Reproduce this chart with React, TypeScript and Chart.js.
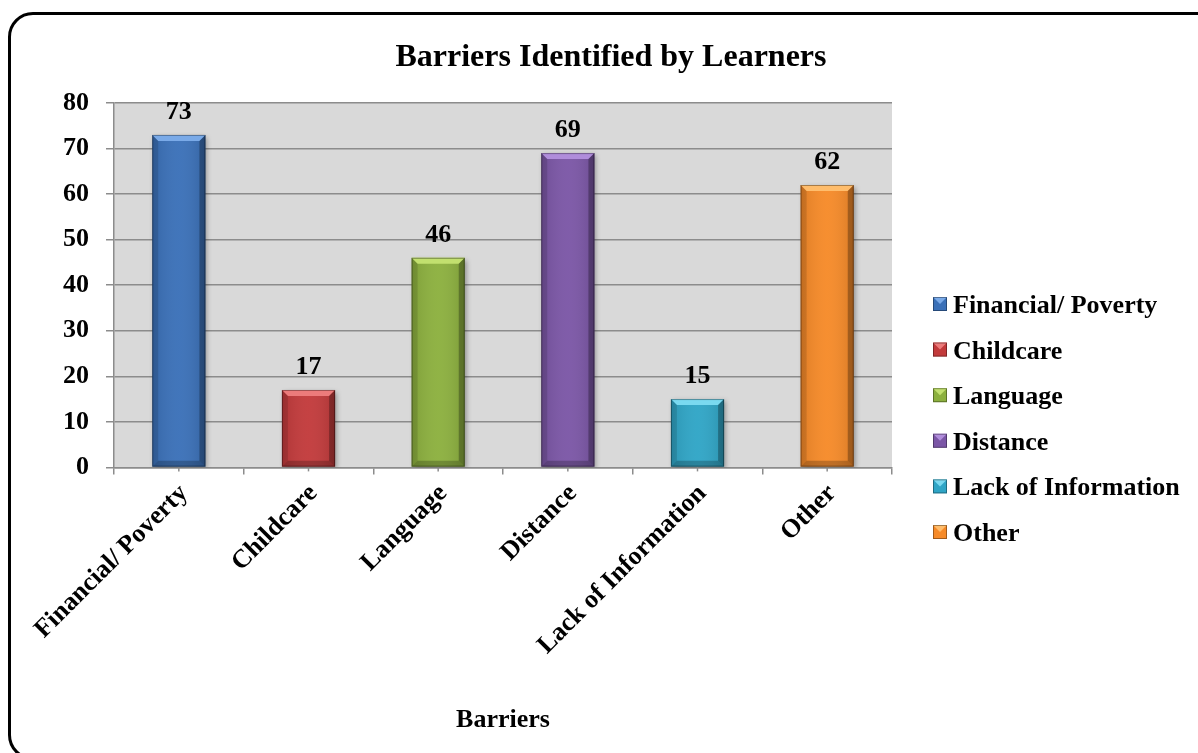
import React, { useEffect, useRef } from "react";
import { Chart, registerables } from "chart.js";

Chart.register(...registerables);

const categories = [
  "Financial/ Poverty",
  "Childcare",
  "Language",
  "Distance",
  "Lack of Information",
  "Other",
];
const values = [73, 17, 46, 69, 15, 62];
const barColors = ["#3a70b8", "#c23a3b", "#8cb03e", "#7b56a6", "#2fa5c6", "#f68a28"];
const bevelColors = ["#7aaae8", "#ec7b7b", "#c2e06f", "#b08ddb", "#7ad9f0", "#ffbd6c"];
const yMin = 0;
const yMax = 80;
const yStep = 10;
const chartTitle = "Barriers Identified by Learners";
const xAxisTitle = "Barriers";

const FONT = '"Liberation Serif", "Times New Roman", serif';
const GRID = "#8c8c8c";

const decorPlugin = {
  id: "decor",
  beforeDraw(chart: any) {
    const { ctx, chartArea: a } = chart;
    ctx.save();
    ctx.fillStyle = "#d9d9d9";
    ctx.fillRect(a.left, a.top, a.right - a.left, a.bottom - a.top);
    ctx.restore();
  },
  beforeDatasetsDraw(chart: any) {
    const { ctx } = chart;
    ctx.save();
    ctx.shadowColor = "rgba(0,0,0,0.35)";
    ctx.shadowBlur = 5;
    ctx.shadowOffsetX = 2;
    ctx.shadowOffsetY = 2;
  },
  afterDatasetsDraw(chart: any) {
    const { ctx, chartArea: a } = chart;
    ctx.restore();
    const meta = chart.getDatasetMeta(0);
    meta.data.forEach((el: any, i: number) => {
      const w = el.width;
      const l = el.x - w / 2;
      const r = el.x + w / 2;
      const t = el.y;
      const b = el.base;
      const bv = 6;
      ctx.save();
      const g = ctx.createLinearGradient(l, 0, r, 0);
      g.addColorStop(0, "rgba(0,0,0,0.10)");
      g.addColorStop(0.5, "rgba(255,255,255,0.04)");
      g.addColorStop(1, "rgba(0,0,0,0.12)");
      ctx.fillStyle = g;
      ctx.fillRect(l, t, w, b - t);
      ctx.beginPath();
      ctx.moveTo(l, t);
      ctx.lineTo(r, t);
      ctx.lineTo(r - bv, t + bv);
      ctx.lineTo(l + bv, t + bv);
      ctx.closePath();
      ctx.fillStyle = bevelColors[i];
      ctx.fill();
      ctx.beginPath();
      ctx.moveTo(l, t);
      ctx.lineTo(l + bv, t + bv);
      ctx.lineTo(l + bv, b - bv);
      ctx.lineTo(l, b);
      ctx.closePath();
      ctx.fillStyle = "rgba(0,0,0,0.12)";
      ctx.fill();
      ctx.beginPath();
      ctx.moveTo(r, t);
      ctx.lineTo(r - bv, t + bv);
      ctx.lineTo(r - bv, b - bv);
      ctx.lineTo(r, b);
      ctx.closePath();
      ctx.fillStyle = "rgba(0,0,0,0.28)";
      ctx.fill();
      ctx.beginPath();
      ctx.moveTo(l, b);
      ctx.lineTo(l + bv, b - bv);
      ctx.lineTo(r - bv, b - bv);
      ctx.lineTo(r, b);
      ctx.closePath();
      ctx.fillStyle = "rgba(0,0,0,0.22)";
      ctx.fill();
      ctx.strokeStyle = "rgba(0,0,0,0.35)";
      ctx.lineWidth = 1;
      ctx.strokeRect(l + 0.5, t + 0.5, w - 1, b - t - 1);
      ctx.fillStyle = "#000";
      ctx.font = `bold 26px ${FONT}`;
      ctx.textAlign = "center";
      ctx.textBaseline = "alphabetic";
      ctx.fillText(String(values[i]), el.x, t - 16);
      ctx.strokeStyle = GRID;
      ctx.lineWidth = 1.5;
      ctx.beginPath();
      ctx.moveTo(el.x, a.bottom);
      ctx.lineTo(el.x, a.bottom + 4);
      ctx.stroke();
      ctx.restore();
    });
  },
  afterDraw(chart: any) {
    const { ctx, chartArea: a } = chart;
    ctx.save();
    ctx.fillStyle = "#000";
    ctx.font = `bold 32px ${FONT}`;
    ctx.textAlign = "center";
    ctx.textBaseline = "alphabetic";
    ctx.fillText(chartTitle, 611, 66);
    const bx = a.right + 41;
    const y0 = 304;
    const dy = 45.6;
    ctx.font = `bold 26px ${FONT}`;
    ctx.textAlign = "left";
    categories.forEach((c, i) => {
      const cy = y0 + i * dy;
      const s = 14;
      const x = bx;
      const y = cy - s / 2;
      ctx.fillStyle = barColors[i];
      ctx.fillRect(x, y, s, s);
      ctx.beginPath();
      ctx.moveTo(x, y);
      ctx.lineTo(x + s, y);
      ctx.lineTo(x + s / 2, y + s / 2);
      ctx.closePath();
      ctx.fillStyle = bevelColors[i];
      ctx.fill();
      ctx.strokeStyle = "rgba(0,0,0,0.35)";
      ctx.lineWidth = 1;
      ctx.strokeRect(x + 0.5, y + 0.5, s - 1, s - 1);
      ctx.fillStyle = "#000";
      ctx.fillText(c, bx + 20, cy + 9);
    });
    ctx.restore();
  },
};

export default function App() {
  const ref = useRef<HTMLCanvasElement | null>(null);
  useEffect(() => {
    if (!ref.current) return;
    const chart = new Chart(ref.current, {
      type: "bar",
      data: {
        labels: categories,
        datasets: [
          {
            label: xAxisTitle,
            data: values,
            backgroundColor: barColors,
            borderWidth: 0,
            categoryPercentage: 1,
            barPercentage: 0.41,
          },
        ],
      },
      options: {
        responsive: false,
        animation: false,
        layout: { padding: { left: 46, right: 306, top: 103, bottom: 17 } },
        plugins: {
          legend: { display: false },
          title: { display: false },
          tooltip: { enabled: false },
        },
        scales: {
          x: {
            grid: {
              display: true,
              drawOnChartArea: false,
              drawTicks: true,
              tickLength: 7,
              color: GRID,
              lineWidth: 1.5,
              offset: true,
            },
            border: { color: GRID, width: 1.5 },
            ticks: {
              minRotation: 45,
              maxRotation: 45,
              autoSkip: false,
              padding: 4,
              labelOffset: 5,
              color: "#000",
              font: { family: FONT, size: 26, weight: "bold" },
            },
            title: {
              display: true,
              text: xAxisTitle,
              color: "#000",
              font: { family: FONT, size: 26, weight: "bold" },
              padding: { top: 40, bottom: 0 },
            },
          },
          y: {
            min: yMin,
            max: yMax,
            ticks: {
              stepSize: yStep,
              padding: 17,
              color: "#000",
              font: { family: FONT, size: 26, weight: "bold" },
            },
            grid: { color: GRID, lineWidth: 1.5, tickLength: 8 },
            border: { color: GRID, width: 1.5 },
          },
        },
      },
      plugins: [decorPlugin],
    });
    return () => chart.destroy();
  }, []);

  return (
    <div
      style={{
        position: "fixed",
        left: 0,
        top: 0,
        width: 1198,
        height: 753,
        overflow: "hidden",
        background: "#fff",
      }}
    >
      <div
        style={{
          position: "absolute",
          left: 8,
          top: 12,
          width: 1209,
          height: 742,
          border: "3px solid #000",
          borderRadius: 25,
        }}
      />
      <canvas
        ref={ref}
        width={1198}
        height={753}
        style={{ position: "absolute", left: 0, top: 0, width: 1198, height: 753 }}
      />
    </div>
  );
}
